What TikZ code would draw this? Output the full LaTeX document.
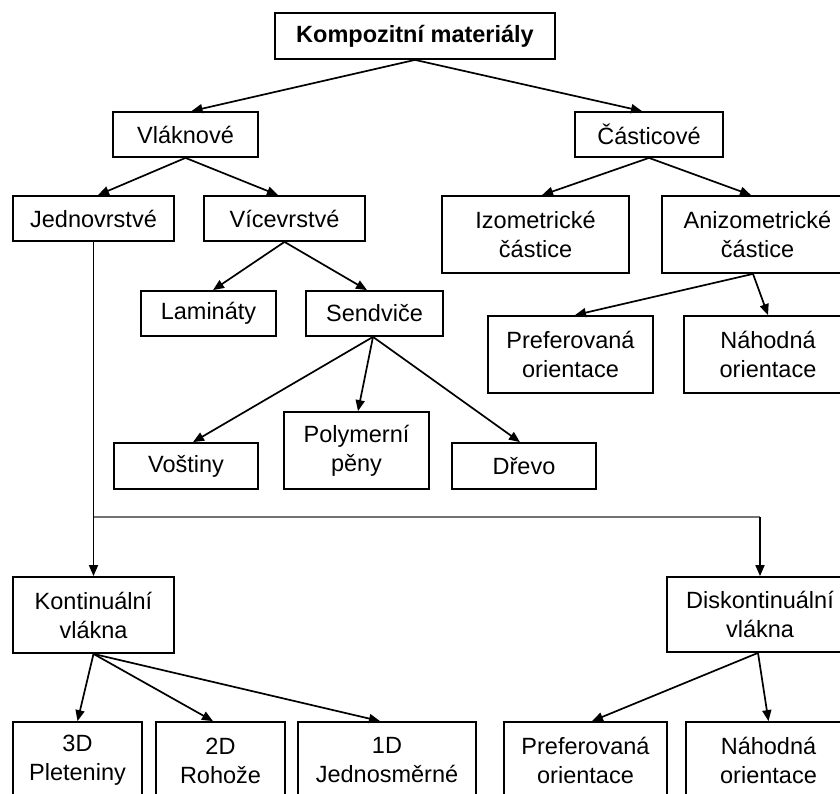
\documentclass[tikz,border=0pt]{standalone}
\usepackage{fontspec}
\setmainfont{Liberation Sans}
\usetikzlibrary{arrows.meta}
\begin{document}
\begin{tikzpicture}[x=1pt,y=-1pt,
  box/.style={draw=black,line width=1.8pt,fill=white,inner sep=0pt,align=center,
    font=\fontsize{23.5}{29}\selectfont},
  conn/.style={line width=1.7pt,-{Triangle[length=11pt,width=9pt]}},
  plainline/.style={line width=1.7pt}]
\useasboundingbox[fill=white] (0,0) rectangle (840,794);

\node[box,minimum width=280pt,minimum height=46pt,font=\fontsize{23.5}{29}\selectfont\bfseries] (komp) at (415,36) {Kompozitní materiály};
\node[box,minimum width=145pt,minimum height=45pt] (vlak) at (185.5,134.5) {Vláknové};
\node[box,minimum width=148pt,minimum height=45pt] (cast) at (649,134.5) {Částicové};
\node[box,minimum width=161pt,minimum height=45pt] (jedn) at (93.5,218.5) {Jednovrstvé};
\node[box,minimum width=161pt,minimum height=45pt] (vice) at (284.5,218.5) {Vícevrstvé};
\node[box,minimum width=187pt,minimum height=77pt] (izo) at (535.5,234.5) {Izometrické\\částice};
\node[box,minimum width=191pt,minimum height=77pt] (aniz) at (757.5,234.5) {Anizometrické\\částice};
\node[box,minimum width=135pt,minimum height=45pt] (lam) at (208.5,313.5) {Lamináty};
\node[box,minimum width=137pt,minimum height=45pt] (send) at (374.5,313.5) {Sendviče};
\node[box,minimum width=165pt,minimum height=77pt] (prefA) at (570.5,354.5) {Preferovaná\\orientace};
\node[box,minimum width=168pt,minimum height=77pt] (nahA) at (768,354.5) {Náhodná\\orientace};
\node[box,minimum width=144pt,minimum height=46pt] (vost) at (186,466) {Voštiny};
\node[box,minimum width=145pt,minimum height=77pt] (poly) at (356.5,450.5) {Polymerní\\pěny};
\node[box,minimum width=144pt,minimum height=46pt] (drevo) at (524,466) {Dřevo};
\node[box,minimum width=161pt,minimum height=76pt] (kont) at (93.5,615) {Kontinuální\\vlákna};
\node[box,minimum width=186pt,minimum height=75pt] (disk) at (760,614.5) {Diskontinuální\\vlákna};
\node[box,minimum width=129pt,minimum height=77pt] (dtri) at (77.5,760.5) {3D\\Pleteniny};
\node[box,minimum width=129pt,minimum height=77pt] (ddva) at (220.5,760.5) {2D\\Rohože};
\node[box,minimum width=178pt,minimum height=77pt] (djed) at (387,760.5) {1D\\Jednosměrné};
\node[box,minimum width=163pt,minimum height=77pt] (prefB) at (585.5,760.5) {Preferovaná\\orientace};
\node[box,minimum width=165pt,minimum height=77pt] (nahB) at (768.5,760.5) {Náhodná\\orientace};

\coordinate (split) at (93.5,517);
\coordinate (corner) at (760,517);

\draw[conn] (komp.south) -- ([xshift=6pt]vlak.north);
\draw[conn] (komp.south) -- ([xshift=-7pt]cast.north);
\draw[conn] (vlak.south) -- ([xshift=4.5pt]jedn.north);
\draw[conn] (vlak.south) -- ([xshift=-6.5pt]vice.north);
\draw[conn] (vice.south) -- ([xshift=4.5pt]lam.north);
\draw[conn] (vice.south) -- ([xshift=-7.5pt]send.north);
\draw[conn] ([xshift=-1.5pt]send.south) -- ([xshift=7pt]vost.north);
\draw[conn] ([xshift=-1.5pt]send.south) -- ([xshift=1.5pt]poly.north);
\draw[conn] ([xshift=-1.5pt]send.south) -- ([xshift=-4pt]drevo.north);
\draw[conn] (cast.south) -- ([xshift=6.5pt]izo.north);
\draw[conn] (cast.south) -- ([xshift=-6.5pt]aniz.north);
\draw[conn] ([xshift=-4.5pt]aniz.south) -- ([xshift=4.5pt]prefA.north);
\draw[conn] ([xshift=-4.5pt]aniz.south) -- (nahA.north);
\draw[conn] (jedn.south) -- (kont.north);
\draw[plainline,draw=black!55] (split) -- (corner);
\draw[conn] (corner) -- (disk.north);
\draw[conn] (kont.south) -- (dtri.north);
\draw[conn] (kont.south) -- ([xshift=-7.5pt]ddva.north);
\draw[conn] (kont.south) -- ([xshift=-7pt]djed.north);
\draw[conn] ([xshift=-2pt]disk.south) -- ([xshift=6.5pt]prefB.north);
\draw[conn] ([xshift=-2pt]disk.south) -- (nahB.north);
\end{tikzpicture}
\end{document}
